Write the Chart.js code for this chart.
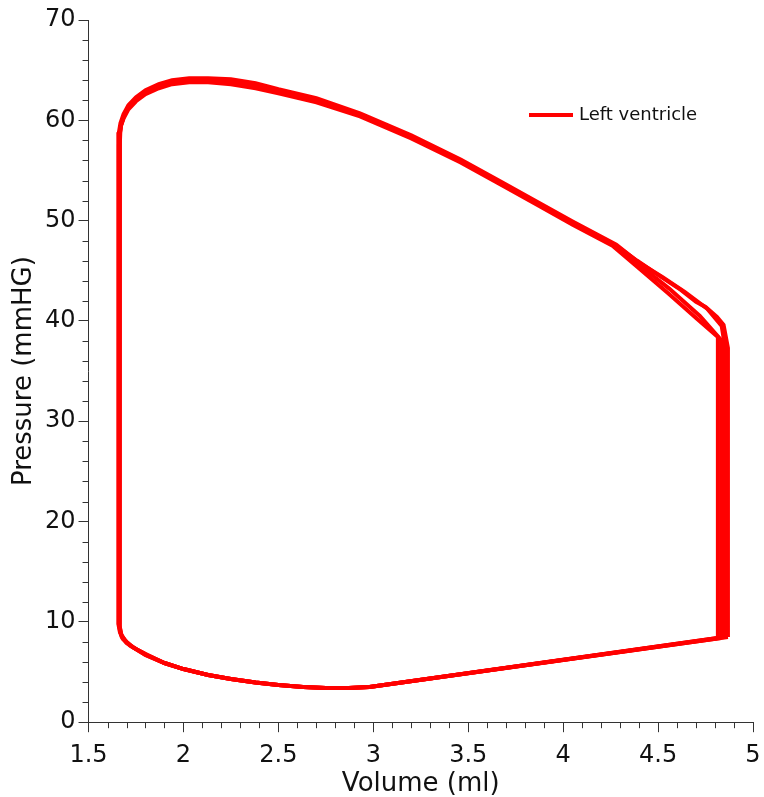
<!DOCTYPE html>
<html>
<head>
<meta charset="utf-8">
<script src="https://cdn.jsdelivr.net/npm/chart.js@4/dist/chart.umd.min.js"></script>
<style>
  body { margin: 0; background: #fff; }
</style>
</head>
<body>
<canvas id="myChart" width="764" height="797"></canvas>
<script>
// pressure-volume loops, several beats (ml, mmHg)
const cycle1Vol = [4.815, 4.815, 4.70, 4.55, 4.39, 4.26, 4.05, 3.86, 3.68, 3.46, 3.20, 2.93, 2.70, 2.50, 2.38, 2.25, 2.13, 2.03, 1.94, 1.87, 1.80, 1.75, 1.71, 1.685, 1.670, 1.662, 1.660, 1.660, 1.668, 1.69, 1.73, 1.80, 1.90, 2.00, 2.13, 2.25, 2.38, 2.50, 2.63, 2.75, 2.87, 2.98, 4.815]
const cycle1Pres = [8.4, 38.4, 40.3, 42.8, 45.4, 47.5, 49.6, 51.6, 53.5, 55.8, 58.2, 60.4, 61.8, 62.7, 63.2, 63.6, 63.8, 63.8, 63.6, 63.2, 62.6, 61.9, 61.1, 60.2, 59.4, 58.5, 57.5, 9.7, 8.9, 8.2, 7.5, 6.7, 5.9, 5.3, 4.7, 4.3, 3.95, 3.7, 3.5, 3.4, 3.4, 3.5, 8.4]

const cycle2Vol = [4.832, 4.832, 4.72, 4.56, 4.40, 4.27, 4.05, 3.86, 3.68, 3.46, 3.20, 2.93, 2.70, 2.50, 2.38, 2.25, 2.13, 2.03, 1.94, 1.87, 1.80, 1.75, 1.71, 1.687, 1.672, 1.665, 1.663, 1.663, 1.672, 1.70, 1.74, 1.80, 1.90, 2.00, 2.13, 2.25, 2.38, 2.50, 2.63, 2.75, 2.87, 2.98, 4.832]
const cycle2Pres = [8.4, 38.1, 40.5, 43.2, 45.6, 47.6, 49.8, 51.8, 53.7, 56.0, 58.4, 60.6, 62.1, 63.0, 63.5, 63.9, 64.1, 64.1, 63.9, 63.5, 62.9, 62.2, 61.4, 60.5, 59.6, 58.7, 57.8, 9.6, 8.7, 8.0, 7.4, 6.7, 5.9, 5.3, 4.7, 4.3, 3.95, 3.7, 3.5, 3.4, 3.4, 3.5, 8.4]

const cycle3Vol = [4.85, 4.85, 4.835, 4.76, 4.64, 4.52, 4.40, 4.28, 4.05, 3.86, 3.68, 3.46, 3.20, 2.93, 2.70, 2.50, 2.38, 2.25, 2.13, 2.03, 1.94, 1.87, 1.80, 1.75, 1.71, 1.684, 1.668, 1.660, 1.657, 1.657, 1.665, 1.68, 1.72, 1.80, 1.90, 2.00, 2.13, 2.25, 2.38, 2.50, 2.63, 2.75, 2.87, 2.98, 4.85]
const cycle3Pres = [8.5, 37.7, 39.5, 41.2, 42.9, 44.4, 45.8, 47.6, 49.9, 51.9, 53.8, 56.1, 58.5, 60.7, 62.2, 63.1, 63.7, 64.1, 64.2, 64.2, 64.0, 63.6, 63.0, 62.3, 61.5, 60.6, 59.7, 58.8, 57.9, 9.8, 9.0, 8.3, 7.6, 6.8, 5.9, 5.3, 4.7, 4.3, 3.95, 3.7, 3.5, 3.4, 3.4, 3.5, 8.5]

const cycle4Vol = [4.868, 4.868, 4.845, 4.81, 4.75, 4.70, 4.62, 4.50, 4.39, 4.28, 4.05, 3.86, 3.68, 3.46, 3.20, 2.93, 2.70, 2.50, 2.38, 2.25, 2.13, 2.03, 1.94, 1.87, 1.80, 1.75, 1.71, 1.686, 1.671, 1.667, 1.665, 1.665, 1.675, 1.70, 1.75, 1.81, 1.90, 2.00, 2.13, 2.25, 2.38, 2.50, 2.63, 2.75, 2.87, 2.98, 4.868]
const cycle4Pres = [8.5, 37.3, 39.6, 40.4, 41.4, 41.9, 43.1, 44.6, 46.0, 47.5, 49.7, 51.7, 53.6, 55.9, 58.3, 60.5, 62.0, 62.9, 63.5, 63.9, 64.0, 64.0, 63.8, 63.4, 62.8, 62.1, 61.3, 60.4, 59.5, 58.7, 57.7, 9.5, 8.5, 7.9, 7.3, 6.7, 5.9, 5.3, 4.7, 4.3, 3.95, 3.7, 3.5, 3.4, 3.4, 3.5, 8.5]

const seriesName = 'Left ventricle'
const xMinorTicks = [1.6, 1.7, 1.8, 1.9, 2.1, 2.2, 2.3, 2.4, 2.6, 2.7, 2.8, 2.9, 3.1, 3.2, 3.3, 3.4, 3.6, 3.7, 3.8, 3.9, 4.1, 4.2, 4.3, 4.4, 4.6, 4.7, 4.8, 4.9]
const yMinorTicks = [2, 4, 6, 8, 12, 14, 16, 18, 22, 24, 26, 28, 32, 34, 36, 38, 42, 44, 46, 48, 52, 54, 56, 58, 62, 64, 66, 68]

const cycles = [
    [cycle1Vol, cycle1Pres],
    [cycle2Vol, cycle2Pres],
    [cycle3Vol, cycle3Pres],
    [cycle4Vol, cycle4Pres]
]

Chart.defaults.font.family = '"DejaVu Sans", Verdana, sans-serif'
Chart.defaults.color = '#111'

// minor ticks and the legend inside the plot
const extras = {
    id: 'extras',
    afterDraw(chart) {
        const ctx = chart.ctx
        const xs = chart.scales.x
        const ys = chart.scales.y
        const area = chart.chartArea
        ctx.save()
        ctx.strokeStyle = '#333'
        ctx.lineWidth = 1
        ctx.beginPath()
        xMinorTicks.forEach(v => {
            const px = Math.round(xs.getPixelForValue(v)) + 0.5
            ctx.moveTo(px, area.bottom)
            ctx.lineTo(px, area.bottom + 6)
        })
        yMinorTicks.forEach(v => {
            const py = Math.round(ys.getPixelForValue(v)) + 0.5
            ctx.moveTo(area.left, py)
            ctx.lineTo(area.left - 6, py)
        })
        ctx.stroke()

        // legend
        const lx = area.right - 224
        const ly = area.top + 95
        ctx.strokeStyle = '#ff0000'
        ctx.lineWidth = 4
        ctx.beginPath()
        ctx.moveTo(lx, ly)
        ctx.lineTo(lx + 44, ly)
        ctx.stroke()
        ctx.fillStyle = '#111'
        ctx.font = '18px "DejaVu Sans", Verdana, sans-serif'
        ctx.textBaseline = 'middle'
        ctx.textAlign = 'left'
        ctx.fillText(seriesName, lx + 50, ly)
        ctx.restore()
    }
}

const ctx = document.getElementById('myChart')
const myChart = new Chart(ctx, {
    type: 'scatter',
    data: {
        datasets: cycles.map(c => ({
            label: seriesName,
            data: c[0].map((v, i) => ({ x: v, y: c[1][i] })),
            showLine: true,
            borderColor: '#ff0000',
            backgroundColor: '#ff0000',
            borderWidth: 4,
            pointRadius: 0,
            tension: 0,
            fill: false
        }))
    },
    options: {
        responsive: false,
        animation: false,
        layout: { padding: { top: 20, left: 11, right: 0, bottom: 0 } },
        plugins: {
            legend: { display: false },
            tooltip: { enabled: false }
        },
        scales: {
            x: {
                type: 'linear',
                min: 1.5,
                max: 5,
                ticks: {
                    stepSize: 0.5,
                    font: { size: 24 },
                    padding: 9,
                    maxRotation: 0,
                    callback: v => String(Number(v.toFixed(1)))
                },
                grid: { drawOnChartArea: false, tickLength: 10, tickColor: '#333' },
                border: { color: '#333', width: 1 },
                title: { display: true, text: 'Volume (ml)', font: { size: 26, lineHeight: 1 }, padding: { top: -8, bottom: 0 } },
                afterFit: axis => { axis.paddingRight = 11 }
            },
            y: {
                min: 0,
                max: 70,
                ticks: { stepSize: 10, font: { size: 24 }, padding: 3 },
                grid: { drawOnChartArea: false, tickLength: 10, tickColor: '#333' },
                border: { color: '#333', width: 1 },
                title: { display: true, text: 'Pressure (mmHG)', font: { size: 26, lineHeight: 1 }, padding: { top: 0, bottom: 5 } }
            }
        }
    },
    plugins: [extras]
})
</script>
</body>
</html>
